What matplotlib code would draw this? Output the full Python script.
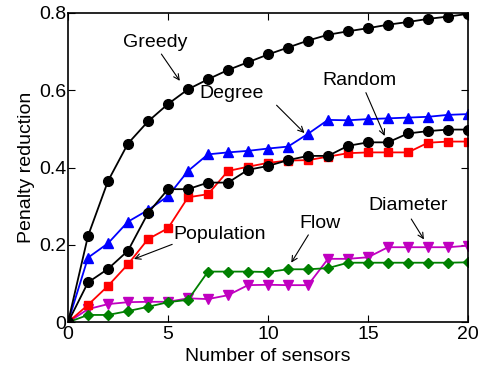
import matplotlib
matplotlib.use("Agg")
import matplotlib.pyplot as plt

plt.rcParams['font.family'] = ['Liberation Sans', 'DejaVu Sans']

sensors = list(range(21))
greedy = [0, 0.223, 0.365, 0.462, 0.519, 0.564, 0.602, 0.628, 0.652, 0.672, 0.692,
          0.71, 0.728, 0.743, 0.752, 0.76, 0.769, 0.776, 0.784, 0.79, 0.797]
random_ = [0, 0.103, 0.138, 0.185, 0.282, 0.344, 0.344, 0.361, 0.361, 0.394, 0.404,
           0.419, 0.43, 0.43, 0.456, 0.465, 0.465, 0.488, 0.494, 0.498, 0.498]
degree = [0, 0.167, 0.204, 0.26, 0.29, 0.326, 0.391, 0.434, 0.439, 0.443, 0.449,
          0.454, 0.487, 0.523, 0.522, 0.525, 0.527, 0.529, 0.531, 0.536, 0.538]
population = [0, 0.045, 0.094, 0.15, 0.215, 0.243, 0.323, 0.331, 0.391, 0.402, 0.412,
              0.418, 0.419, 0.428, 0.437, 0.439, 0.439, 0.439, 0.464, 0.467, 0.467]
flow = [0, 0.019, 0.019, 0.029, 0.04, 0.052, 0.058, 0.131, 0.131, 0.131, 0.13,
        0.137, 0.137, 0.14, 0.154, 0.154, 0.154, 0.154, 0.154, 0.154, 0.155]
diameter = [0, 0.034, 0.047, 0.052, 0.053, 0.053, 0.062, 0.06, 0.07, 0.096, 0.097,
            0.096, 0.096, 0.164, 0.164, 0.168, 0.194, 0.194, 0.194, 0.194, 0.198]

fig = plt.figure(figsize=(4.8, 3.71), dpi=100)
ax = fig.add_axes([68/480, 1-322.3/371, 400/480, 309.6/371])

lw = 1.3
ms = 7
ax.plot(sensors, diameter, color='#c000c0', marker='v', lw=lw, ms=ms)
ax.plot(sensors, flow, color='#008000', marker='D', lw=lw, ms=ms-1.5)
ax.plot(sensors, population, color='red', marker='s', lw=lw, ms=ms-1)
ax.plot(sensors, degree, color='blue', marker='^', lw=lw, ms=ms)
ax.plot(sensors, random_, color='black', marker='o', lw=lw, ms=ms)
ax.plot(sensors, greedy, color='black', marker='o', lw=lw, ms=ms)

ax.set_xlim(0, 20)
ax.set_ylim(0, 0.8)
ax.set_xticks([0, 5, 10, 15, 20])
ax.set_yticks([0, 0.2, 0.4, 0.6, 0.8])
ax.set_yticklabels(['0', '0.2', '0.4', '0.6', '0.8'])
ax.tick_params(direction='in', top=True, right=True, labelsize=14, length=5, pad=1)
ax.tick_params(axis='x', pad=3)
for s in ax.spines.values():
    s.set_linewidth(1.2)
ax.set_xlabel('Number of sensors', fontsize=14)
ax.xaxis.set_label_coords(0.5, -0.082)
ax.set_ylabel('Penalty reduction', fontsize=14, labelpad=3)

labels = ['Greedy', 'Degree', 'Random', 'Population', 'Flow', 'Diameter']
text_pos = [(4.34, 0.722), (8.19, 0.592), (14.55, 0.624), (7.59, 0.226), (12.62, 0.256), (17.0, 0.303)]
arrow_from = [(4.59, 0.699), (10.33, 0.566), (14.84, 0.6), (5.34, 0.204), (12.09, 0.232), (17.09, 0.273)]
arrow_to = [(5.67, 0.618), (11.92, 0.484), (15.89, 0.475), (3.17, 0.161), (11.09, 0.148), (17.87, 0.208)]

for lab, tp, a0, a1 in zip(labels, text_pos, arrow_from, arrow_to):
    ax.text(tp[0], tp[1], lab, fontsize=14, ha='center', va='center')
    ax.annotate('', xy=a1, xytext=a0,
                arrowprops=dict(arrowstyle='->', color='black', lw=0.8))

fig.savefig('out.png', dpi=100)
